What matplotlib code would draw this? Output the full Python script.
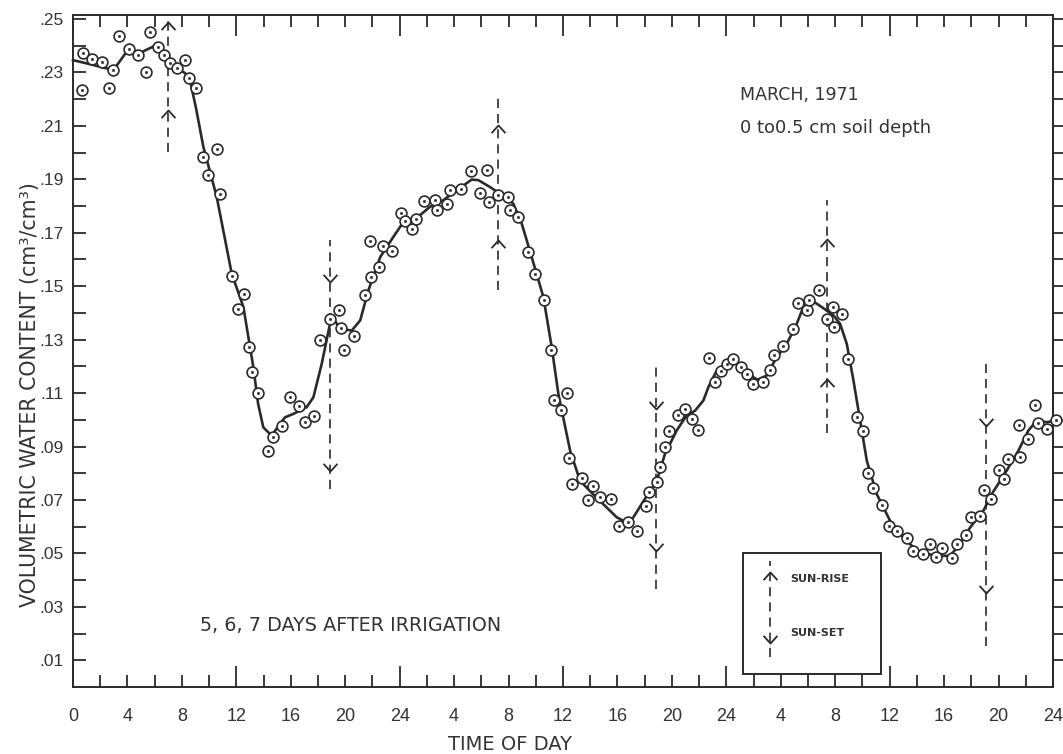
import numpy as np
import matplotlib
matplotlib.use("Agg")
import matplotlib.pyplot as plt
from matplotlib.path import Path
from matplotlib.patches import Rectangle
from matplotlib.ticker import FixedLocator, FuncFormatter, NullFormatter

# ---------------- data ----------------
obs_hours = [0.64, 0.71, 1.42, 2.11, 2.65, 2.97, 3.40, 4.09, 4.80, 5.36, 5.66, 6.22, 6.71, 7.13,
             7.67, 8.24, 8.55, 9.04, 9.53, 9.94, 10.56, 10.80, 11.66, 12.15, 12.57, 12.93, 13.15,
             13.57, 14.29, 14.68, 15.34, 15.95, 16.64, 17.06, 17.68, 18.16, 18.85, 19.51, 19.71,
             19.93, 20.65, 21.46, 21.80, 21.86, 22.51, 22.81, 23.43, 24.09, 24.41, 24.90, 25.22,
             25.79, 26.60, 26.77, 27.46, 27.70, 28.49, 29.24, 29.90, 30.40, 30.57, 31.20, 31.94,
             32.11, 32.72, 33.46, 33.95, 34.61, 35.13, 35.35, 35.84, 36.32, 36.45, 36.64, 37.38,
             37.80, 38.24, 38.75, 39.56, 40.10, 40.80, 41.42, 42.10, 42.33, 42.88, 43.13, 43.50,
             43.82, 44.48, 44.97, 45.46, 45.95, 46.75, 47.17, 47.59, 48.03, 48.52, 49.08, 49.50,
             49.94, 50.70, 51.21, 51.51, 52.19, 52.88, 53.30, 53.91, 54.10, 54.81, 55.38, 55.85,
             55.90, 56.53, 56.97, 57.59, 58.07, 58.44, 58.80, 59.42, 59.98, 60.57, 61.26, 61.75,
             62.46, 62.96, 63.41, 63.83, 64.56, 64.93, 65.59, 65.96, 66.65, 66.94, 67.43, 68.04,
             68.40, 68.72, 69.50, 69.58, 70.19, 70.68, 70.93, 71.59, 72.25]
obs_theta = [.2236, .2374, .2349, .2340, .2240, .2309, .2436, .2388, .2365, .2300, .2452, .2396,
             .2366, .2334, .2315, .2346, .2278, .2240, .1984, .1915, .2012, .1844, .1540, .1416,
             .1469, .1272, .1178, .1099, .0885, .0937, .0978, .1084, .1053, .0991, .1016, .1299,
             .1378, .1412, .1344, .1262, .1312, .1466, .1669, .1534, .1572, .1649, .1632, .1774,
             .1744, .1713, .1753, .1819, .1822, .1784, .1809, .1861, .1864, .1931, .1849, .1934,
             .1815, .1843, .1834, .1784, .1759, .1628, .1544, .1449, .1262, .1075, .1037, .1101,
             .0857, .0760, .0782, .0701, .0753, .0712, .0703, .0603, .0616, .0585, .0678, .0728,
             .0769, .0822, .0897, .0957, .1018, .1041, .1003, .0962, .1231, .1141, .1182, .1207,
             .1228, .1199, .1172, .1135, .1141, .1187, .1241, .1276, .1340, .1437, .1412, .1449,
             .1487, .1378, .1422, .1349, .1397, .1226, .1012, .0957, .0800, .0743, .0681, .0603,
             .0582, .0557, .0510, .0497, .0535, .0485, .0522, .0481, .0537, .0569, .0637, .0641,
             .0737, .0703, .0812, .0778, .0853, .0982, .0862, .0928, .1057, .0987, .0966, .1000]

fit_hours = [0.0, 1.0, 2.97, 4.09, 4.8, 6.22, 7.13, 8.24, 8.6, 9.04, 9.58, 10.56, 11.66, 12.52,
             13.25, 13.6, 13.98, 14.59, 15.57, 16.18, 17.16, 17.66, 18.27, 18.88, 19.2, 19.6,
             20.48, 21.1, 21.7, 22.57, 23.53, 24.27, 25.4, 26.23, 27.2, 28.19, 29.29, 29.78,
             30.64, 31.37, 32.35, 32.97, 33.7, 34.56, 35.17, 35.66, 36.52, 37.25, 38.2, 39.95,
             40.68, 41.17, 41.78, 42.64, 43.0, 43.49, 44.35, 45.08, 45.7, 46.31, 46.68, 47.29,
             48.03, 48.52, 49.26, 50.0, 50.3, 50.97, 51.7, 52.44, 53.17, 53.66, 54.27, 55.01,
             55.87, 56.36, 56.85, 57.34, 57.83, 58.32, 59.05, 60.03, 61.0, 62.1, 63.46, 64.44,
             65.17, 65.91, 66.89, 67.5, 68.6, 69.46, 70.19, 70.81, 71.54, 72.2]
fit_theta = [.2346, .2334, .2309, .2388, .2370, .2405, .2334, .2297, .2270, .2166, .2021, .1834,
             .1547, .1422, .1197, .1060, .0972, .0941, .1009, .1022, .1047, .1084, .1209, .1359,
             .1375, .1341, .1334, .1372, .1484, .1609, .1684, .1740, .1762, .1797, .1822, .1859,
             .1899, .1897, .1871, .1846, .1809, .1734, .1609, .1459, .1272, .1097, .0885, .0772,
             .0722, .0635, .0616, .0635, .0685, .0753, .0790, .0872, .0960, .1016, .1034, .1072,
             .1122, .1184, .1209, .1222, .1197, .1159, .1150, .1166, .1234, .1284, .1359, .1422,
             .1447, .1422, .1391, .1359, .1284, .1147, .0997, .0847, .0722, .0622, .0560, .0505,
             .0491, .0491, .0535, .0597, .0660, .0722, .0810, .0885, .0960, .0997, .0991, .0997]

sunrise_hours = [7.0, 31.25, 55.42]
sunrise_top = [.2496, .2215, .1822]
sunrise_bottom = [.2001, .1484, .0952]
sunrise_tips = [[.2489, .2159], [.2103, .1672], [.1675, .1154]]

sunset_hours = [18.86, 42.86, 67.08]
sunset_top = [.1672, .1207, .1214]
sunset_bottom = [.0742, .0367, .0154]
sunset_tips = [[.1514, .0810], [.1042, .0510], [.0978, .0352]]

x_major_hours = [0, 12, 24, 36, 48, 60, 72]
x_minor_hours = [h for h in range(2, 72, 2) if h % 12]
y_major_vals = [.01, .03, .05, .07, .09, .11, .13, .15, .17, .19, .21, .23, .25]
y_minor_vals = [.02, .04, .06, .08, .10, .12, .14, .16, .18, .20, .22, .24]

# ---------------- style ----------------
plt.rcParams['font.family'] = ['Liberation Sans', 'DejaVu Sans']
WIDE = ['DejaVu Sans', 'Liberation Sans']
INK = '#2a2a2a'
TXT = '#333333'

W, H = 1063, 754
fig = plt.figure(figsize=(W / 100, H / 100), dpi=100)
fig.patch.set_facecolor('white')
ax = fig.add_axes([73 / W, (H - 687) / H, 980 / W, 672 / H])
ax.set_xlim(0, 72)
ax.set_ylim(0, 0.2515)
for s in ax.spines.values():
    s.set_color(INK)
    s.set_linewidth(1.4)

# fitted curve
ax.plot(fit_hours, fit_theta, color=INK, lw=1.9, solid_joinstyle='round', zorder=3,
        clip_on=False)
# observations: circle with a central dot
ax.plot(obs_hours, obs_theta, ls='none', marker='o', ms=7.8, mfc='white', mec=INK, mew=1.2,
        zorder=4, clip_on=False)
ax.plot(obs_hours, obs_theta, ls='none', marker='o', ms=1.7, mfc=INK, mec=INK, mew=0.4,
        zorder=5, clip_on=False)

# chevron markers (tip at origin)
up_chev = Path([(-1.0, -1.1), (0, 0), (1.0, -1.1)], [Path.MOVETO, Path.LINETO, Path.LINETO])
dn_chev = Path([(-1.0, 1.1), (0, 0), (1.0, 1.1)], [Path.MOVETO, Path.LINETO, Path.LINETO])
CHEV = dict(ls='none', ms=11, mfc='none', mec=INK, mew=1.3)

def dashed(axis, xs, ys, **kw):
    ln, = axis.plot(xs, ys, color=INK, lw=1.2, zorder=2, **kw)
    ln.set_dashes((5.5, 3.6))
    return ln

for h, t, b, tips in zip(sunrise_hours, sunrise_top, sunrise_bottom, sunrise_tips):
    dashed(ax, [h, h], [b, t])
    ax.plot([h] * len(tips), tips, marker=up_chev, zorder=2, **CHEV)
for h, t, b, tips in zip(sunset_hours, sunset_top, sunset_bottom, sunset_tips):
    dashed(ax, [h, h], [b, t])
    ax.plot([h] * len(tips), tips, marker=dn_chev, zorder=2, **CHEV)

# ---------------- ticks ----------------
def hour_label(v, pos):
    h = int(round(v))
    if h % 4:
        return ''
    if h == 0:
        return '0'
    r = h % 24
    return '24' if r == 0 else str(r)

ax.xaxis.set_major_locator(FixedLocator(x_major_hours))
ax.xaxis.set_minor_locator(FixedLocator(x_minor_hours))
ax.xaxis.set_major_formatter(FuncFormatter(hour_label))
ax.xaxis.set_minor_formatter(FuncFormatter(hour_label))
ax.tick_params(axis='x', which='major', direction='in', length=15, width=1.3, top=True,
               bottom=True, labelsize=13, pad=15, colors=INK, labelcolor=TXT)
ax.tick_params(axis='x', which='minor', direction='in', length=8.6, width=1.3, top=True,
               bottom=True, labelsize=13, pad=15, colors=INK, labelcolor=TXT)

ax.yaxis.set_major_locator(FixedLocator(y_major_vals))
ax.yaxis.set_minor_locator(FixedLocator(y_minor_vals))
ax.yaxis.set_major_formatter(FuncFormatter(lambda v, p: f"{v:.2f}"[1:]))
ax.yaxis.set_minor_formatter(NullFormatter())
ax.tick_params(axis='y', which='both', direction='in', length=9.5, width=1.3, left=True,
               right=False, labelsize=12.5, pad=7, colors=INK, labelcolor=TXT)

sec = ax.secondary_yaxis('right')
sec.yaxis.set_major_locator(FixedLocator(y_major_vals + y_minor_vals))
sec.yaxis.set_major_formatter(NullFormatter())
sec.tick_params(axis='y', direction='out', length=7, width=1.3, colors=INK)
sec.spines['right'].set_color(INK)
sec.spines['right'].set_linewidth(1.4)

# ---------------- labels & annotations ----------------
fig.text(30 / W, 1 - 395 / H, 'VOLUMETRIC WATER CONTENT (cm³/cm³)', rotation=90,
         ha='center', va='center', fontsize=14.8, color=TXT, family=WIDE)
fig.text(510 / W, 1 - 745 / H, 'TIME OF DAY', ha='center', va='center', fontsize=14,
         color=TXT, family=WIDE)

ax.text(0.681, 0.881, 'MARCH, 1971', transform=ax.transAxes, ha='left', va='center',
        fontsize=12.5, color=TXT, family=WIDE)
ax.text(0.681, 0.832, '0 to0.5 cm soil depth', transform=ax.transAxes, ha='left',
        va='center', fontsize=13, color=TXT, family=WIDE)
ax.text(0.130, 0.092, '5, 6, 7 DAYS AFTER IRRIGATION', transform=ax.transAxes, ha='left',
        va='center', fontsize=13.8, color=TXT, family=WIDE)

# legend box
ax.add_patch(Rectangle((0.684, 0.019), 0.140, 0.180, transform=ax.transAxes, fill=True,
                       facecolor='white', edgecolor=INK, lw=1.4, zorder=6))
dashed(ax, [0.711, 0.711], [0.045, 0.188], transform=ax.transAxes).set_zorder(7)
ax.plot([0.711], [0.171], transform=ax.transAxes, marker=up_chev, zorder=7, **CHEV)
ax.plot([0.711], [0.065], transform=ax.transAxes, marker=dn_chev, zorder=7, **CHEV)
ax.text(0.732, 0.161, 'SUN-RISE', transform=ax.transAxes, ha='left', va='center',
        fontsize=8, fontweight='bold', color=TXT, zorder=7, family=WIDE)
ax.text(0.732, 0.080, 'SUN-SET', transform=ax.transAxes, ha='left', va='center',
        fontsize=8, fontweight='bold', color=TXT, zorder=7, family=WIDE)

fig.savefig('out.png', dpi=100, facecolor='white')
